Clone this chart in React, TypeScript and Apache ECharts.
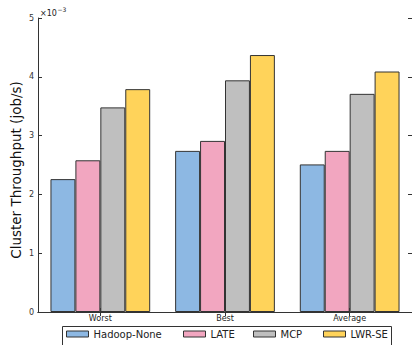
import React, { useEffect, useRef } from "react";
import * as echarts from "echarts";

const categories = ["Worst", "Best", "Average"];
const seriesNames = ["Hadoop-None", "LATE", "MCP", "LWR-SE"];
const hadoopNone = [2.26, 2.74, 2.51];
const late = [2.58, 2.91, 2.74];
const mcp = [3.48, 3.94, 3.71];
const lwrSe = [3.79, 4.37, 4.09];
const yTicks = [0, 1, 2, 3, 4, 5];
const colors = ["#8db8e3", "#f2a6c0", "#bfbfbf", "#ffd35a"];

const FONT = "DejaVu Sans";
const AX = "#333";

export default function App() {
  const ref = useRef<HTMLDivElement>(null);
  useEffect(() => {
    if (!ref.current) return;
    const chart = echarts.init(ref.current, null, { renderer: "svg" });
    const values = [hadoopNone, late, mcp, lwrSe];
    const legendLefts = [66, 183, 253, 323];
    chart.setOption({
      animation: false,
      backgroundColor: "#fff",
      textStyle: { fontFamily: FONT },
      grid: { left: 38, right: -2, top: 18, bottom: 33, containLabel: false },
      xAxis: [
        {
          type: "category",
          data: categories,
          position: "bottom",
          axisLine: { show: true, lineStyle: { color: AX, width: 1 } },
          axisTick: { show: true, inside: true, alignWithLabel: true, length: 4, lineStyle: { color: AX } },
          axisLabel: { fontSize: 8, color: "#222", margin: 2.5, fontFamily: FONT },
          splitLine: { show: false },
        },
        {
          type: "category",
          data: categories,
          position: "top",
          axisLine: { show: true, lineStyle: { color: AX, width: 1 } },
          axisTick: { show: true, inside: true, alignWithLabel: true, length: 4, lineStyle: { color: AX } },
          axisLabel: { show: false },
          splitLine: { show: false },
        },
      ],
      yAxis: [
        {
          type: "value",
          min: yTicks[0],
          max: yTicks[yTicks.length - 1],
          interval: 1,
          position: "left",
          axisLine: { show: true, lineStyle: { color: AX, width: 1 } },
          axisTick: { show: true, inside: true, length: 4, lineStyle: { color: AX } },
          axisLabel: { fontSize: 8, color: "#333", margin: 4, fontFamily: FONT },
          splitLine: { show: false },
        },
        {
          type: "value",
          min: yTicks[0],
          max: yTicks[yTicks.length - 1],
          interval: 1,
          position: "right",
          axisLine: { show: true, lineStyle: { color: AX, width: 1 } },
          axisTick: { show: true, inside: true, length: 4, lineStyle: { color: AX } },
          axisLabel: { show: false },
          splitLine: { show: false },
        },
      ],
      legend: seriesNames.map((n, i) => ({
        data: [n],
        left: legendLefts[i],
        top: 329,
        padding: 0,
        itemWidth: 22,
        itemHeight: 6,
        icon: "rect",
        itemStyle: { borderColor: AX, borderWidth: 1 },
        textStyle: { fontSize: 10, color: "#222", fontFamily: FONT },
        selectedMode: false,
      })),
      series: seriesNames.map((n, i) => ({
        name: n,
        type: "bar",
        data: values[i],
        barGap: "0%",
        barCategoryGap: "20%",
        itemStyle: { color: colors[i], borderColor: AX, borderWidth: 1 },
      })),
      graphic: [
        {
          type: "text",
          x: 16,
          y: 170,
          rotation: Math.PI / 2,
          style: {
            text: "Cluster Throughput (job/s)",
            fontSize: 13.5,
            fontFamily: FONT,
            fill: "#111",
            align: "center",
            verticalAlign: "middle",
          },
        },
        {
          type: "text",
          x: 40,
          y: 13,
          style: { text: "×10", fontSize: 8, fontFamily: FONT, fill: "#222", verticalAlign: "middle" },
        },
        {
          type: "text",
          x: 57.5,
          y: 9,
          style: { text: "−3", fontSize: 6, fontFamily: FONT, fill: "#222", verticalAlign: "middle" },
        },
        {
          type: "rect",
          shape: { x: 62.5, y: 326.5, width: 329, height: 30 },
          style: { fill: "none", stroke: AX, lineWidth: 1 },
        },
      ],
    });
    return () => chart.dispose();
  }, []);
  return <div ref={ref} style={{ width: 412, height: 345, position: "absolute", left: 0, top: 0 }} />;
}
